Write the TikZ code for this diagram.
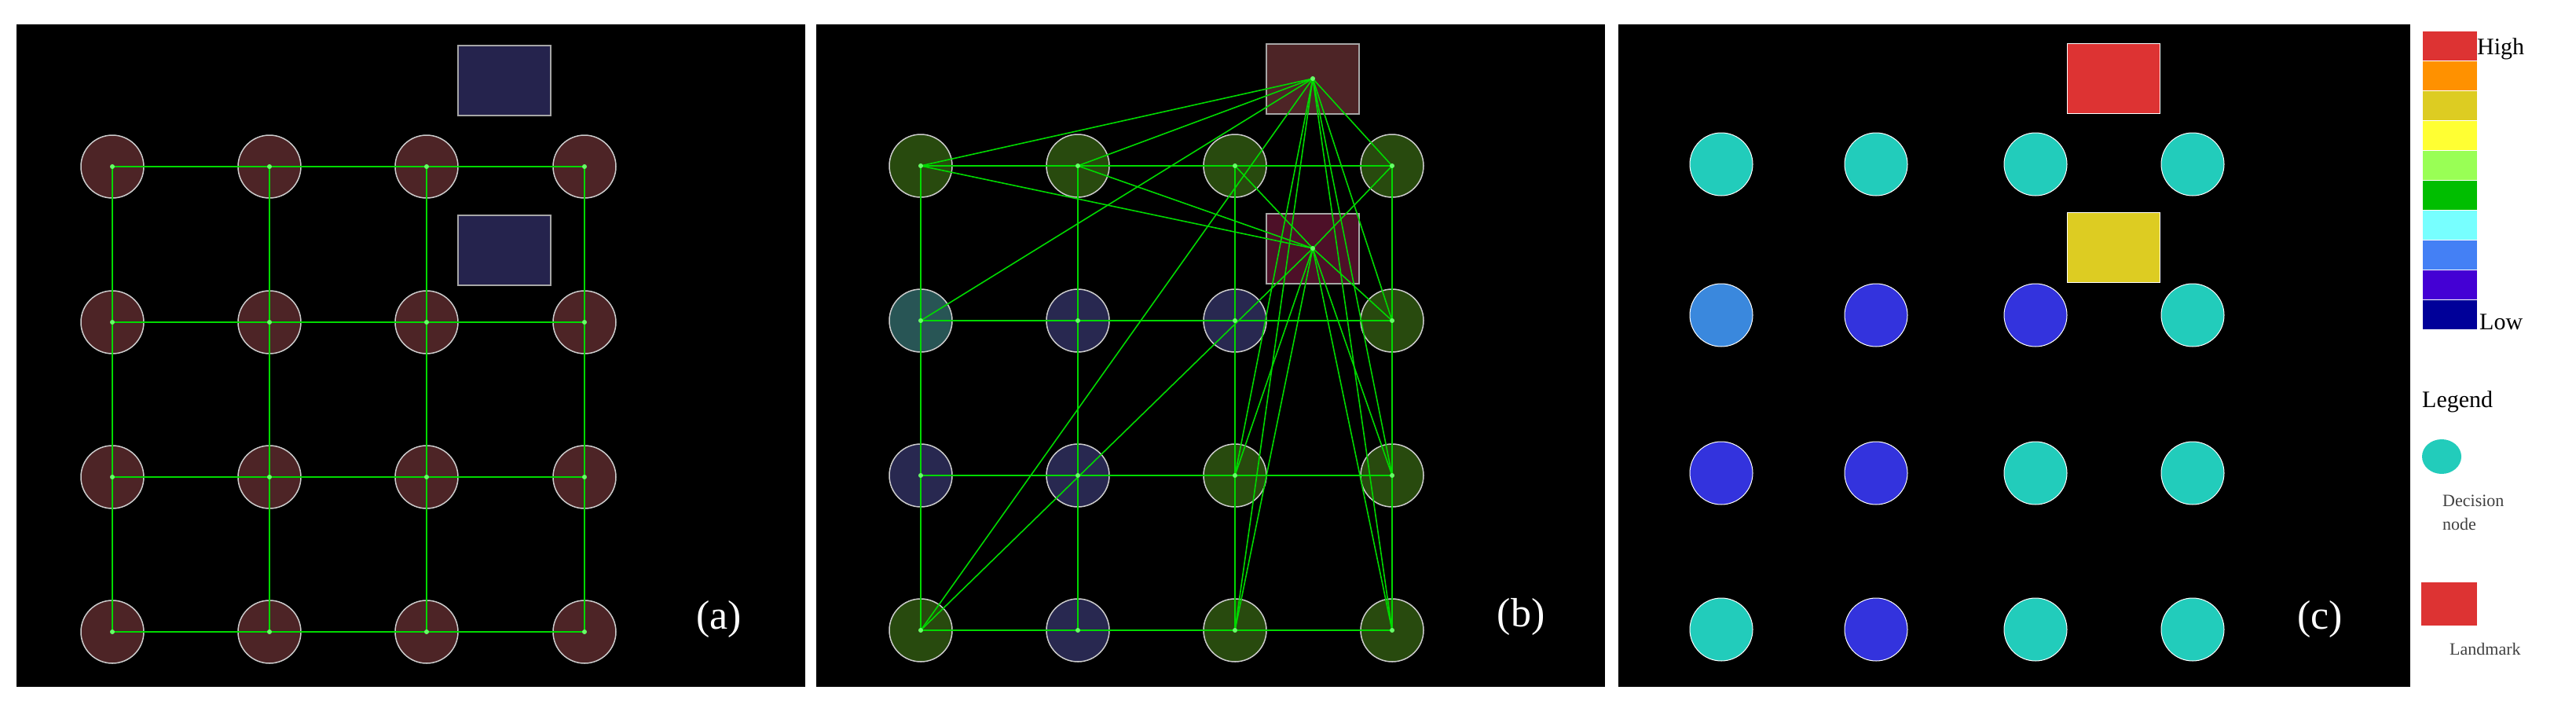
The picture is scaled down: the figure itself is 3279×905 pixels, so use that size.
\documentclass[tikz,border=0pt]{standalone}
\usepackage{fontspec}
\setmainfont{Liberation Serif}
\usetikzlibrary{shapes.geometric}
\begin{document}
\begin{tikzpicture}[x=1pt,y=-1pt,
  nd/.style={circle,minimum size=80pt,inner sep=0pt,draw=gray!40,line width=1.5pt},
  cn/.style={circle,minimum size=80pt,inner sep=0pt,draw=white,line width=1pt},
  lm/.style={rectangle,minimum width=118pt,minimum height=89pt,inner sep=0pt,draw=gray!70,line width=2pt},
  ed/.style={draw=green!85!black,line width=2pt},
  dot/.style={circle,fill=green!60!white,inner sep=0pt,minimum size=6pt},
  lab/.style={text=white,font=\fontsize{52}{56}\selectfont},
  brown/.style={fill={rgb,255:red,77;green,36;blue,38}},
  grn/.style={fill={rgb,255:red,40;green,74;blue,14}},
  blu/.style={fill={rgb,255:red,40;green,40;blue,80}},
  tea/.style={fill={rgb,255:red,40;green,85;blue,85}},
  ct/.style={fill={rgb,255:red,34;green,204;blue,187}},
  cb/.style={fill={rgb,255:red,51;green,51;blue,221}},
  cl/.style={fill={rgb,255:red,58;green,136;blue,221}}]
\useasboundingbox[fill=white] (0,0) rectangle (3279,905);
% panels
\fill[black] (21,31) rectangle (1025,874);
\fill[black] (1039,31) rectangle (2043,874);
\fill[black] (2060,31) rectangle (3068,874);
%% Panel (a)
\node[lm,fill={rgb,255:red,37;green,35;blue,77}] (aT) at (642,102) {};
\node[lm,fill={rgb,255:red,37;green,35;blue,77}] (aM) at (642,318) {};
\foreach \r/\y in {1/212,2/410,3/607,4/804}{
  \foreach \c/\x in {1/143,2/343,3/543,4/744}{
    \node[nd,brown] (a\r\c) at (\x,\y) {};
  }}
\foreach \r in {1,...,4}{
  \draw[ed] (a\r1.center) -- (a\r2.center) -- (a\r3.center) -- (a\r4.center);
  \draw[ed] (a1\r.center) -- (a2\r.center) -- (a3\r.center) -- (a4\r.center);}
\foreach \r in {1,...,4}{\foreach \c in {1,...,4}{\node[dot] at (a\r\c.center) {};}}
\node[lab] (la) at (915,788) {(a)};
%% Panel (b)
\node[lm,fill={rgb,255:red,77;green,36;blue,38}] (bT) at (1671,100) {};
\node[lm,fill={rgb,255:red,77;green,16;blue,40}] (bM) at (1671,316) {};
\foreach \r/\y/\cs in {1/211/{grn,grn,grn,grn},2/408/{tea,blu,blu,grn},3/605/{blu,blu,grn,grn},4/802/{grn,blu,grn,grn}}{
  \foreach \c/\x [count=\i] in {1/1172,2/1372,3/1572,4/1772}{
    \foreach \s [count=\j] in \cs {\ifnum\i=\j \node[nd,\s] (b\r\c) at (\x,\y) {};\fi}
  }}
\foreach \r in {1,...,4}{
  \draw[ed,line width=1.6pt] (b\r1.center) -- (b\r2.center) -- (b\r3.center) -- (b\r4.center);
  \draw[ed,line width=1.6pt] (b1\r.center) -- (b2\r.center) -- (b3\r.center) -- (b4\r.center);}
\foreach \n in {b11,b12,b21,b41,b14,b24,b33,b34,b43,b44}{\draw[ed,line width=1.6pt] (bT.center) -- (\n.center);}
\foreach \n in {b11,b12,b13,b14,b41,b24,b33,b34,b43,b44}{\draw[ed,line width=1.6pt] (bM.center) -- (\n.center);}
\foreach \r in {1,...,4}{\foreach \c in {1,...,4}{\node[dot] at (b\r\c.center) {};}}
\node[dot] at (bT.center) {};
\node[dot] at (bM.center) {};
\node[lab] (lb) at (1936,785) {(b)};
%% Panel (c)
\node[lm,draw=white,line width=1pt,fill={rgb,255:red,221;green,51;blue,51}] (cT) at (2690,100) {};
\node[lm,draw=white,line width=1pt,fill={rgb,255:red,221;green,204;blue,34}] (cM) at (2690,315) {};
\foreach \r/\y/\cs in {1/209/{ct,ct,ct,ct},2/401/{cl,cb,cb,ct},3/602/{cb,cb,ct,ct},4/801/{ct,cb,ct,ct}}{
  \foreach \c/\x [count=\i] in {1/2191,2/2388,3/2591,4/2791}{
    \foreach \s [count=\j] in \cs {\ifnum\i=\j \node[cn,\s] (c\r\c) at (\x,\y) {};\fi}
  }}
\node[lab] (lc) at (2953,788) {(c)};
%% Legend
\foreach \col [count=\i] in {{221,51,51},{255,145,0},{221,204,34},{255,255,51},{153,255,85},{0,190,0},{119,255,255},{68,128,245},{68,0,212},{0,0,153}}{
  \definecolor{cc\i}{RGB}{\col}
  \node[rectangle,fill=cc\i,draw=white,line width=1pt,minimum width=70pt,minimum height=38pt,inner sep=0pt] (bar\i) at (3118,{39+19+(\i-1)*38.1}) {};
}
\node[anchor=west,font=\fontsize{30}{32}\selectfont,inner sep=2pt] (hi) at (3151,62) {High};
\node[anchor=west,font=\fontsize{30}{32}\selectfont,inner sep=2pt] (lo) at (3154,410) {Low};
\node[anchor=west,font=\fontsize{30}{32}\selectfont,inner sep=0pt] (leg) at (3083,511) {Legend};
\node[ellipse,minimum width=50pt,minimum height=44pt,inner sep=0pt,fill={rgb,255:red,34;green,204;blue,187}] (lgc) at (3108,581) {};
\node[align=left,anchor=west,inner sep=0pt,font=\fontsize{22}{30}\selectfont,text=black!75] (dn) at (3109,652) {Decision\\node};
\node[rectangle,minimum width=71pt,minimum height=55pt,inner sep=0pt,fill={rgb,255:red,221;green,51;blue,51}] (lgl) at (3117,768) {};
\node[anchor=west,inner sep=0pt,font=\fontsize{22}{24}\selectfont,text=black!75] (lmk) at (3118,826) {Landmark};
\end{tikzpicture}
\end{document}
